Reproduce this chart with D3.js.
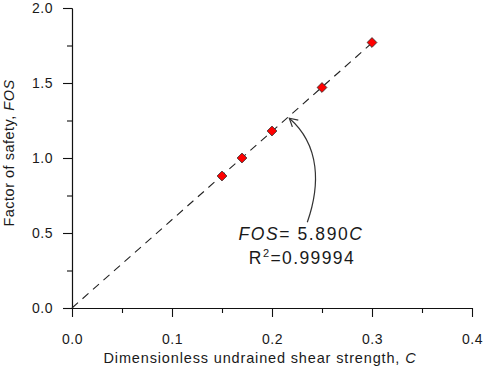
<!DOCTYPE html>
<html><head><meta charset="utf-8">
<script src="https://cdn.jsdelivr.net/npm/d3@7"></script>
<style>
body{margin:0;background:#fff}
svg{display:block}
text{font-family:'Liberation Sans',Arial,sans-serif;fill:#1a1a1a}
</style>
</head><body><svg id="c" width="484" height="367"></svg>
<script>
// ---- data ----
const cValues   = [0.15, 0.17, 0.20, 0.25, 0.30];
const fosValues = [0.88, 1.00, 1.18, 1.47, 1.77];
const xTicks = [0, 0.1, 0.2, 0.3, 0.4];
const yTicks = [0, 0.5, 1.0, 1.5, 2.0];
const xMinorTicks = [0.05, 0.15, 0.25, 0.35];
const yMinorTicks = [0.25, 0.75, 1.25, 1.75];
const fitSlope = 5.890;
const fitRange = [0, 0.3];
const r2Text = "0.99994";
const arrowTip = [0.2173, 1.265];

const svg = d3.select("#c");
const x = d3.scaleLinear().domain([0, 0.4]).range([72, 472]);
const y = d3.scaleLinear().domain([0, 2]).range([308, 8]);

function styleAxis(g){
  g.attr("font-family", null).attr("font-size", null);
  g.selectAll("path.domain").attr("stroke", "#111").attr("stroke-width", 1.1);
  g.selectAll(".tick line").attr("stroke", "#111").attr("stroke-width", 1.1);
  g.selectAll(".tick text").style("font-size", "14px").style("letter-spacing", "0.5px").attr("fill", "#1a1a1a");
}

// minor ticks
svg.append("g").attr("transform", `translate(0,${y(0)})`)
  .call(d3.axisBottom(x).tickValues(xMinorTicks).tickSize(5).tickSizeOuter(0).tickFormat(""))
  .call(styleAxis);
svg.append("g").attr("transform", `translate(${x(0)},0)`)
  .call(d3.axisLeft(y).tickValues(yMinorTicks).tickSize(5).tickSizeOuter(0).tickFormat(""))
  .call(styleAxis);

// major axes
svg.append("g").attr("transform", `translate(0,${y(0)})`)
  .call(d3.axisBottom(x).tickValues(xTicks).tickSize(9).tickSizeOuter(0).tickPadding(17).tickFormat(d3.format(".1f")))
  .call(styleAxis);
svg.append("g").attr("transform", `translate(${x(0)},0)`)
  .call(d3.axisLeft(y).tickValues(yTicks).tickSize(9).tickSizeOuter(0).tickPadding(10).tickFormat(d3.format(".1f")))
  .call(styleAxis);

// axis titles
const xt = svg.append("text").attr("x", 260).attr("y", 363).attr("text-anchor", "middle")
  .style("font-size", "14.5px").style("letter-spacing", "0.85px");
xt.append("tspan").text("Dimensionless undrained shear strength, ");
xt.append("tspan").style("font-style", "italic").text("C");

const yt = svg.append("text").attr("transform", "translate(14,153) rotate(-90)").attr("text-anchor", "middle")
  .style("font-size", "14.5px").style("letter-spacing", "0.5px");
yt.append("tspan").text("Factor of safety, ");
yt.append("tspan").style("font-style", "italic").text("FOS");

// fitted line
svg.append("line")
  .attr("x1", x(fitRange[0])).attr("y1", y(fitSlope * fitRange[0]))
  .attr("x2", x(fitRange[1])).attr("y2", y(fitSlope * fitRange[1]))
  .attr("stroke", "#222").attr("stroke-width", 1.1).attr("stroke-dasharray", "8,6");

// markers
svg.append("g").selectAll("path").data(cValues).join("path")
  .attr("d", d3.symbol(d3.symbolSquare, 48))
  .attr("transform", (d, i) => `translate(${x(d)},${y(fosValues[i])}) rotate(45)`)
  .attr("fill", "#ff0000").attr("stroke", "#333").attr("stroke-width", 0.8);

// annotation arrow
svg.append("defs").append("marker").attr("id", "ah")
  .attr("viewBox", "-10 -6 12 12").attr("refX", 0).attr("refY", 0)
  .attr("markerWidth", 12).attr("markerHeight", 12).attr("markerUnits", "userSpaceOnUse")
  .attr("orient", "auto")
  .append("path").attr("d", "M-8,-4.5 L0,0 L-8,4.5").attr("fill", "none").attr("stroke", "#333").attr("stroke-width", 1.2);

const tx = x(arrowTip[0]), ty = y(arrowTip[1]);
svg.append("path")
  .attr("d", `M${tx + 18},${ty + 104} C${tx + 31},${ty + 67} ${tx + 31},${ty + 27} ${tx},${ty}`)
  .attr("fill", "none").attr("stroke", "#333").attr("stroke-width", 1.2).attr("marker-end", "url(#ah)");

// equation text
const eq = svg.append("text").attr("x", 301).attr("y", 240).attr("text-anchor", "middle")
  .style("font-size", "17.5px").style("letter-spacing", "1.6px");
eq.append("tspan").style("font-style", "italic").text("FOS");
eq.append("tspan").text("= " + fitSlope.toFixed(3));
eq.append("tspan").style("font-style", "italic").text("C");

const r2 = svg.append("text").attr("x", 302).attr("y", 264).attr("text-anchor", "middle")
  .style("font-size", "17.5px").style("letter-spacing", "1.4px");
r2.append("tspan").text("R");
r2.append("tspan").attr("dy", -7).style("font-size", "11px").text("2");
r2.append("tspan").attr("dy", 7).text("=" + r2Text);
</script>
</body></html>
